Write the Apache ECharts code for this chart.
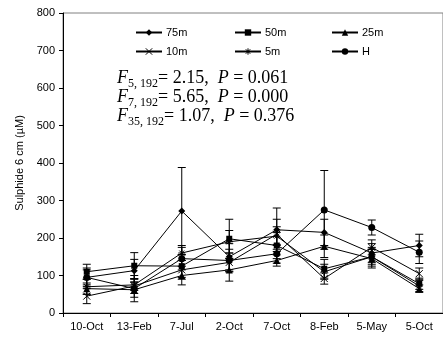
<!DOCTYPE html>
<html><head><meta charset="utf-8">
<script src="https://cdn.jsdelivr.net/npm/echarts@6/dist/echarts.min.js"></script>
<style>html,body{margin:0;padding:0;background:#fff}#c{width:443px;height:344px}</style>
</head><body><div id="c"></div>
<script>
const categories = ['10-Oct','13-Feb','7-Jul','2-Oct','7-Oct','8-Feb','5-May','5-Oct'];
const seriesNames = ['75m','50m','25m','10m','5m','H'];
const v75m = [95, 113, 272, 150, 222, 215, 160, 180];
const v50m = [110, 126, 125, 198, 180, 118, 150, 78];
const v25m = [65, 62, 100, 115, 140, 178, 145, 65];
const v10m = [45, 72, 115, 135, 210, 92, 175, 105];
const v5m  = [70, 75, 160, 190, 205, 110, 150, 72];
const vH   = [95, 65, 145, 140, 158, 275, 228, 162];
const e75m = [20, 30, 116, 35, 58, 35, 25, 30];
const e50m = [20, 35, 30, 52, 35, 25, 25, 15];
const e25m = [15, 20, 25, 30, 15, 30, 25, 10];
const e10m = [20, 20, 25, 25, 40, 15, 20, 15];
const e5m  = [20, 15, 20, 30, 25, 20, 20, 15];
const eH   = [25, 35, 30, 30, 25, 105, 20, 30];
const yTicks = {min: 0, max: 800, interval: 100};

const values = [v75m, v50m, v25m, v10m, v5m, vH];
const errors = [e75m, e50m, e25m, e10m, e5m, eH];
const symbols = [
  'diamond', 'rect', 'triangle',
  'path://M0,0L10,10M10,0L0,10',
  'path://M5,0L5,10M0,5L10,5M1.5,1.5L8.5,8.5M8.5,1.5L1.5,8.5',
  'circle'
];
const sizes = [7, 6, 7, 7, 7, 7];

const series = [];
seriesNames.forEach((n, i) => {
  series.push({
    name: n, type: 'line', data: values[i],
    symbol: symbols[i], symbolSize: sizes[i],
    lineStyle: {color: '#000', width: 1},
    itemStyle: {color: '#000', borderColor: '#000', borderWidth: (i===3||i===4) ? 1 : 0},
    emphasis: {disabled: true}, z: 3
  });
  const errData = values[i].map((v, k) => [k, v - errors[i][k], v + errors[i][k]]);
  series.push({
    type: 'custom', name: n + ' err', data: errData, z: 2, silent: true,
    renderItem: function (params, api) {
      const x = api.coord([api.value(0), 0])[0];
      const lo = api.coord([api.value(0), api.value(1)])[1];
      const hi = api.coord([api.value(0), api.value(2)])[1];
      const w = 4;
      const st = {stroke: '#000', lineWidth: 1};
      return {type: 'group', children: [
        {type: 'line', shape: {x1: x, y1: lo, x2: x, y2: hi}, style: st},
        {type: 'line', shape: {x1: x - w, y1: lo, x2: x + w, y2: lo}, style: st},
        {type: 'line', shape: {x1: x - w, y1: hi, x2: x + w, y2: hi}, style: st}
      ]};
    }
  });
});

function legendItem(name) {
  const stroke = (name === '10m' || name === '5m');
  return {name: name, itemStyle: {color: '#000', borderColor: '#000', borderWidth: stroke ? 1 : 0}};
}
function legendCol(left, names) {
  return {
    orient: 'vertical', left: left, top: 27, padding: 0, data: names.map(legendItem),
    itemWidth: 26, itemHeight: 8, itemGap: 8,
    textStyle: {fontFamily: 'Liberation Sans', fontSize: 11, color: '#000', padding: [0,0,0,-1]},
    selectedMode: false
  };
}

const rich = {
  i: {fontFamily: 'Liberation Serif', fontSize: 18, fontStyle: 'italic', color: '#000', lineHeight: 19, verticalAlign: 'bottom'},
  s: {fontFamily: 'Liberation Serif', fontSize: 12, color: '#000', lineHeight: 19, verticalAlign: 'bottom', padding: [0,0,-3,0]},
  n: {fontFamily: 'Liberation Serif', fontSize: 18, color: '#000', lineHeight: 19, verticalAlign: 'bottom'}
};
const stats = [
  ['5, 192', '2.15', '0.061'],
  ['7, 192', '5.65', '0.000'],
  ['35, 192', '1.07', '0.376']
];
const graphics = stats.map((s, k) => ({
  type: 'text', left: 117, top: 69 + k * 19,
  style: {text: '{i|F}{s|' + s[0] + '}{n|= ' + s[1] + ',  }{i|P}{n| = ' + s[2] + '}', rich: rich}
}));

const chart = echarts.init(document.getElementById('c'), null, {renderer: 'canvas'});
chart.setOption({
  animation: false,
  backgroundColor: '#fff',
  grid: {left: 63, top: 13, width: 387, height: 300, show: true, borderColor: '#808080', borderWidth: 1, backgroundColor: 'transparent'},
  legend: [legendCol(135, ['75m', '10m']), legendCol(234, ['50m', '5m']), legendCol(331, ['25m', 'H'])],
  xAxis: {
    type: 'category', data: categories, boundaryGap: true,
    axisLine: {lineStyle: {color: '#000', width: 1}},
    axisTick: {show: true, length: 4, lineStyle: {color: '#000'}},
    axisLabel: {fontFamily: 'Liberation Sans', fontSize: 11, color: '#000', margin: 8, interval: 0}
  },
  yAxis: {
    type: 'value', min: yTicks.min, max: yTicks.max, interval: yTicks.interval,
    name: 'Sulphide 6 cm (\u00b5M)', nameLocation: 'middle', nameGap: 38,
    nameTextStyle: {fontFamily: 'Liberation Sans', fontSize: 11, color: '#000'},
    axisLine: {show: true, lineStyle: {color: '#000', width: 1}},
    axisTick: {show: true, length: 4, lineStyle: {color: '#000'}},
    splitLine: {show: false},
    axisLabel: {fontFamily: 'Liberation Sans', fontSize: 11, color: '#000', margin: 8}
  },
  graphic: graphics,
  series: series
});
</script></body></html>
